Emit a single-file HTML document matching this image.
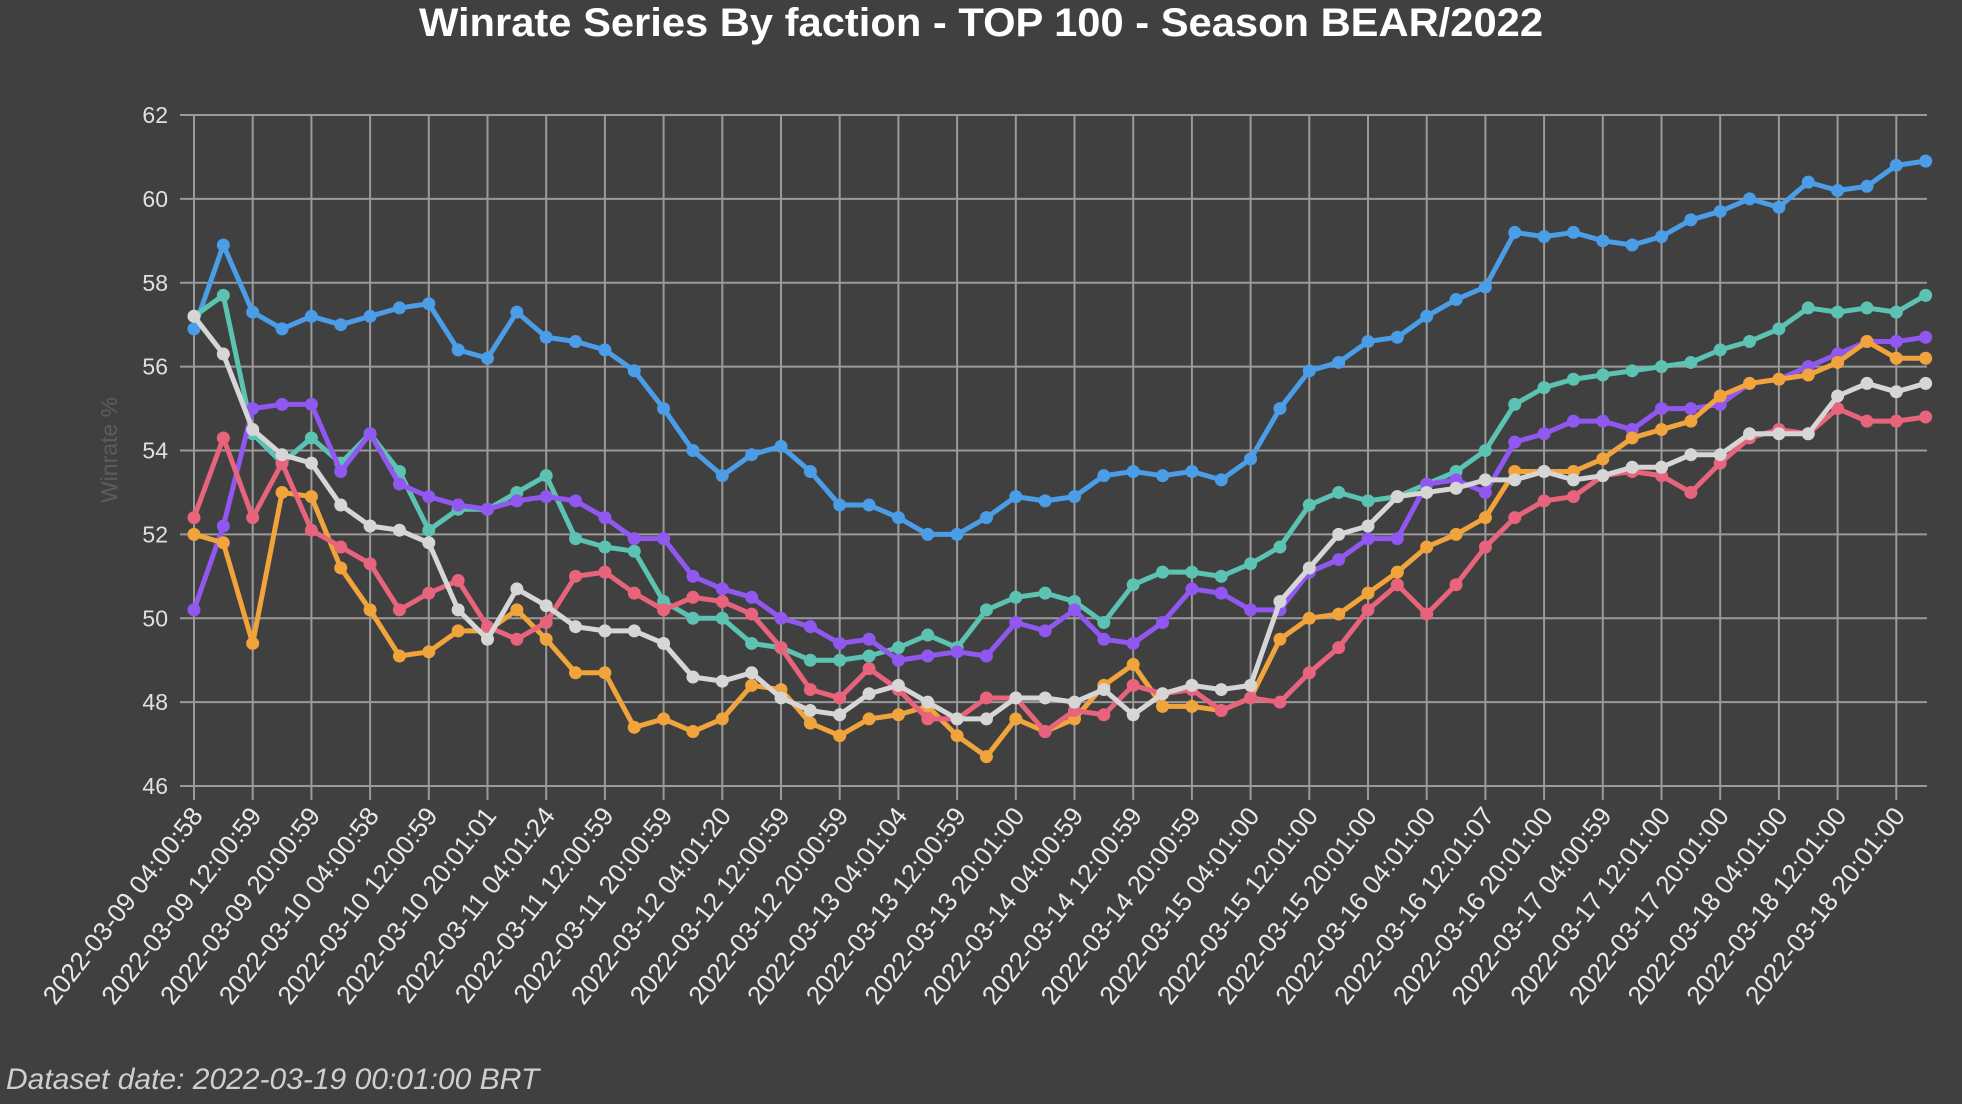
<!DOCTYPE html>
<html><head><meta charset="utf-8"><style>
html,body{margin:0;padding:0;background:#404040;}
svg{display:block;font-family:"Liberation Sans",sans-serif;}
</style></head><body>
<svg id="c" width="1962" height="1104" xmlns="http://www.w3.org/2000/svg">
<rect width="1962" height="1104" fill="#404040"/>
<text x="981" y="36" text-anchor="middle" fill="#ffffff" font-size="40" font-weight="bold" textLength="1124" lengthAdjust="spacingAndGlyphs">Winrate Series By faction - TOP 100 - Season BEAR/2022</text>
<text transform="translate(117,450) rotate(-90)" text-anchor="middle" fill="#5c5c5c" font-size="23">Winrate %</text>
<text x="6" y="1089" fill="#cfcfcf" font-size="30" font-style="italic">Dataset date: 2022-03-19 00:01:00 BRT</text>
<g id="g"></g>
</svg>
<script>
const NS="http://www.w3.org/2000/svg";
const g=document.getElementById('g');
function el(t,a,txt){const e=document.createElementNS(NS,t);for(const k in a)e.setAttribute(k,a[k]);if(txt!==undefined)e.textContent=txt;g.appendChild(e);return e;}
const X0=194,DX=29.35,Y62=115,YU=41.94,XR=1927;
const Y=v=>Y62+(62-v)*YU, X=i=>X0+i*DX;
for(let v=46;v<=62;v+=2){const y=Y(v);el('line',{x1:180,y1:y,x2:XR,y2:y,stroke:'#9a9a9a','stroke-width':2});
el('text',{x:168,y:y+8,'text-anchor':'end',fill:'#e0e0e0','font-size':23},String(v));}
const labels=["03-09 04:00:58","03-09 12:00:59","03-09 20:00:59","03-10 04:00:58","03-10 12:00:59","03-10 20:01:01","03-11 04:01:24","03-11 12:00:59","03-11 20:00:59","03-12 04:01:20","03-12 12:00:59","03-12 20:00:59","03-13 04:01:04","03-13 12:00:59","03-13 20:01:00","03-14 04:00:59","03-14 12:00:59","03-14 20:00:59","03-15 04:01:00","03-15 12:01:00","03-15 20:01:00","03-16 04:01:00","03-16 12:01:07","03-16 20:01:00","03-17 04:00:59","03-17 12:01:00","03-17 20:01:00","03-18 04:01:00","03-18 12:01:00","03-18 20:01:00"];
labels.forEach((l,k)=>{const x=X(2*k);el('line',{x1:x,y1:Y62,x2:x,y2:Y(46)+14,stroke:'#9a9a9a','stroke-width':2});
el('text',{transform:`translate(${x+10},${Y(46)+30}) rotate(-52)`,'text-anchor':'end',fill:'#e8e8e8','font-size':26},'2022-'+l);});
const S=[
['#4a9de6',[56.9,58.9,57.3,56.9,57.2,57.0,57.2,57.4,57.5,56.4,56.2,57.3,56.7,56.6,56.4,55.9,55.0,54.0,53.4,53.9,54.1,53.5,52.7,52.7,52.4,52.0,52.0,52.4,52.9,52.8,52.9,53.4,53.5,53.4,53.5,53.3,53.8,55.0,55.9,56.1,56.6,56.7,57.2,57.6,57.9,59.2,59.1,59.2,59.0,58.9,59.1,59.5,59.7,60.0,59.8,60.4,60.2,60.3,60.8,60.9]],
['#5cc2b2',[57.2,57.7,54.4,53.7,54.3,53.7,54.4,53.5,52.1,52.6,52.6,53.0,53.4,51.9,51.7,51.6,50.4,50.0,50.0,49.4,49.3,49.0,49.0,49.1,49.3,49.6,49.3,50.2,50.5,50.6,50.4,49.9,50.8,51.1,51.1,51.0,51.3,51.7,52.7,53.0,52.8,52.9,53.2,53.5,54.0,55.1,55.5,55.7,55.8,55.9,56.0,56.1,56.4,56.6,56.9,57.4,57.3,57.4,57.3,57.7]],
['#9058f0',[50.2,52.2,55.0,55.1,55.1,53.5,54.4,53.2,52.9,52.7,52.6,52.8,52.9,52.8,52.4,51.9,51.9,51.0,50.7,50.5,50.0,49.8,49.4,49.5,49.0,49.1,49.2,49.1,49.9,49.7,50.2,49.5,49.4,49.9,50.7,50.6,50.2,50.2,51.1,51.4,51.9,51.9,53.2,53.3,53.0,54.2,54.4,54.7,54.7,54.5,55.0,55.0,55.1,55.6,55.7,56.0,56.3,56.6,56.6,56.7]],
['#f2a43c',[52.0,51.8,49.4,53.0,52.9,51.2,50.2,49.1,49.2,49.7,49.7,50.2,49.5,48.7,48.7,47.4,47.6,47.3,47.6,48.4,48.3,47.5,47.2,47.6,47.7,47.9,47.2,46.7,47.6,47.3,47.6,48.4,48.9,47.9,47.9,47.8,48.1,49.5,50.0,50.1,50.6,51.1,51.7,52.0,52.4,53.5,53.5,53.5,53.8,54.3,54.5,54.7,55.3,55.6,55.7,55.8,56.1,56.6,56.2,56.2]],
['#e8637c',[52.4,54.3,52.4,53.7,52.1,51.7,51.3,50.2,50.6,50.9,49.8,49.5,49.9,51.0,51.1,50.6,50.2,50.5,50.4,50.1,49.3,48.3,48.1,48.8,48.3,47.6,47.6,48.1,48.1,47.3,47.8,47.7,48.4,48.2,48.3,47.8,48.1,48.0,48.7,49.3,50.2,50.8,50.1,50.8,51.7,52.4,52.8,52.9,53.4,53.5,53.4,53.0,53.7,54.3,54.5,54.4,55.0,54.7,54.7,54.8]],
['#d6d6d6',[57.2,56.3,54.5,53.9,53.7,52.7,52.2,52.1,51.8,50.2,49.5,50.7,50.3,49.8,49.7,49.7,49.4,48.6,48.5,48.7,48.1,47.8,47.7,48.2,48.4,48.0,47.6,47.6,48.1,48.1,48.0,48.3,47.7,48.2,48.4,48.3,48.4,50.4,51.2,52.0,52.2,52.9,53.0,53.1,53.3,53.3,53.5,53.3,53.4,53.6,53.6,53.9,53.9,54.4,54.4,54.4,55.3,55.6,55.4,55.6]]];
S.forEach(([c,d])=>{el('polyline',{points:d.map((v,i)=>X(i)+','+Y(v)).join(' '),fill:'none',stroke:c,'stroke-width':5,'stroke-linejoin':'round'});
d.forEach((v,i)=>el('circle',{cx:X(i),cy:Y(v),r:6.5,fill:c}));});
</script>
</body></html>
